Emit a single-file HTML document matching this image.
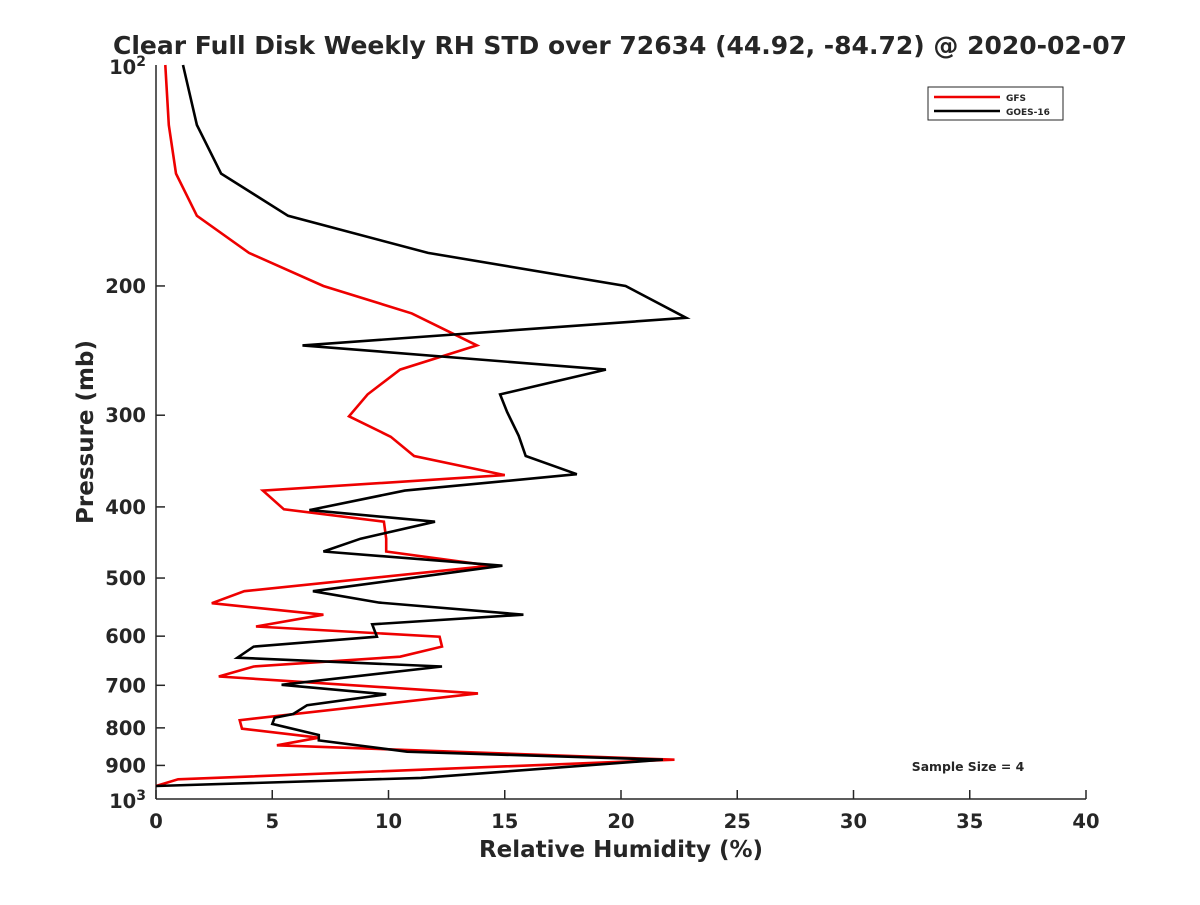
<!DOCTYPE html>
<html><head><meta charset="utf-8"><style>
body{margin:0;background:#fff;}
svg text{font-family:"DejaVu Sans","Liberation Sans",sans-serif;font-weight:bold;fill:#262626;}
</style></head><body>
<svg id="chart" width="1200" height="900" xmlns="http://www.w3.org/2000/svg">
<rect width="1200" height="900" fill="#fff"/>
<text x="620" y="54" font-size="25" text-anchor="middle" fill="#000">Clear Full Disk Weekly RH STD over 72634 (44.92, -84.72) @ 2020-02-07</text>
<g id="axes"></g>
<g id="series"></g>
<text x="621" y="857" font-size="23" text-anchor="middle">Relative Humidity (%)</text>
<text transform="translate(93,432) rotate(-90)" font-size="23" text-anchor="middle">Pressure (mb)</text>
<g>
<rect x="928" y="87" width="135" height="33" fill="#fff" stroke="#262626" stroke-width="1"/>
<line x1="934" y1="97" x2="1000" y2="97" stroke="#e00" stroke-width="2.5"/>
<text x="1006" y="101" font-size="9">GFS</text>
<line x1="934" y1="111" x2="1000" y2="111" stroke="#000" stroke-width="2.5"/>
<text x="1006" y="115" font-size="9">GOES-16</text>
</g>
<text x="968" y="771" font-size="12.4" text-anchor="middle" fill="#000">Sample Size = 4</text>
</svg>
<script>
const xTicks=[0,5,10,15,20,25,30,35,40];
const yTicks=[200,300,400,500,600,700,800,900];
const pressures=[100,120.7,140.6,160.5,180.3,200,221,241,260,281,297,320,341,361,380,404,419,442,460,481,521,540,561,578,601,620,642,660,699,720,745,766,775,790,818,832,862,884,936,960];
const goes=[1.16,1.76,2.8,5.68,11.7,20.2,22.8,6.3,19.35,14.8,15.1,15.6,15.9,18.1,10.7,6.6,12.0,8.8,7.2,14.9,6.75,9.6,15.8,9.3,9.5,4.2,3.5,12.3,5.4,9.9,6.5,5.9,5.1,5.0,7.0,7.0,10.8,21.8,11.4,0];
const gfsP=[100,120.7,140.6,160.5,180.3,200,218,241,260,281,301,321,341,362,380,403,419,442,460,481,521,541,561,582,601,620,640,660,681,718,781,802,825,845,884,940,960];
const gfs=[0.4,0.55,0.86,1.76,4.0,7.2,11.0,13.8,10.5,9.1,8.3,10.1,11.1,15.0,4.6,5.5,9.8,9.9,9.9,14.4,3.8,2.4,7.2,4.3,12.2,12.3,10.5,4.2,2.7,13.85,3.6,3.7,7.0,5.2,22.3,0.95,0];
const X0=156,X1=1086,Y0=65,Y1=799;
const xs=v=>X0+(v/40)*(X1-X0);
const ys=p=>Y0+(Math.log10(p)-2)*(Y1-Y0);
const NS="http://www.w3.org/2000/svg";
const ax=document.getElementById('axes');
function mk(t,a,p){const e=document.createElementNS(NS,t);for(const k in a)e.setAttribute(k,a[k]);p.appendChild(e);return e;}
let l=mk('line',{x1:X0,y1:Y0,x2:X0,y2:Y1,stroke:'#262626','stroke-width':1.5},ax);


l=mk('line',{x1:X0,y1:Y1,x2:X1,y2:Y1,stroke:'#262626','stroke-width':1.5},ax);


xTicks.forEach(v=>{
 const x=xs(v);
 mk('line',{x1:x,y1:Y1,x2:x,y2:Y1-9,stroke:'#262626','stroke-width':1.5},ax);
 const t=mk('text',{x:x,y:Y1+29,'font-size':19.5,'text-anchor':'middle'},ax);
 t.textContent=v;
 
 
});
yTicks.forEach(p=>{
 const y=ys(p);
 mk('line',{x1:X0,y1:y,x2:X0+9,y2:y,stroke:'#262626','stroke-width':1.5},ax);
 const t=mk('text',{x:X0-10,y:y+7,'font-size':19.5,'text-anchor':'end'},ax);
 t.textContent=p;
 
 
});
[[2,Y0],[3,Y1]].forEach(([e,y])=>{
 const t=mk('text',{x:X0-10,y:y+9,'font-size':19.5,'text-anchor':'end'},ax);
 t.innerHTML='10<tspan font-size="14" dy="-8">'+e+'</tspan>';
 
 
});
const sg=document.getElementById('series');
function line(ps,vs,color,name){
 const pts=ps.map((p,i)=>xs(vs[i]).toFixed(1)+','+ys(p).toFixed(1)).join(' ');
 const e=mk('polyline',{points:pts,fill:'none',stroke:color,'stroke-width':2.6,'stroke-linejoin':'miter'},sg);
 
 
}
line(gfsP,gfs,'#e00','gfs-line');
line(pressures,goes,'#000','goes16-line');
</script>
</body></html>
